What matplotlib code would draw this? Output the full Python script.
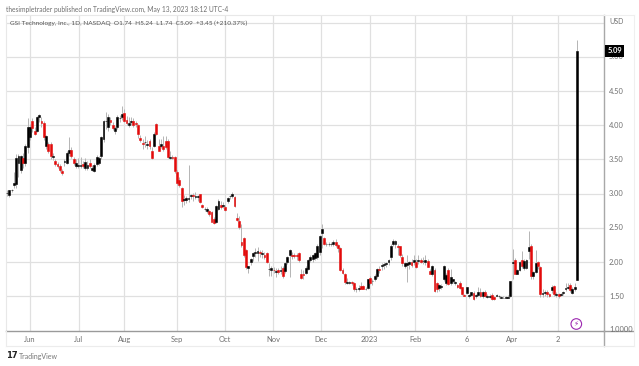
import matplotlib
matplotlib.use("Agg")
import matplotlib.pyplot as plt
import numpy as np

# daily bars as (open, high, low, close)
bars_may_jun = [
(3.01,3.05,2.97,3.01),(2.98,3.06,2.95,3.05),(3.05,3.07,3.02,3.05),(3.13,3.32,3.08,3.16),(3.14,3.58,3.09,3.52),
(3.45,3.58,3.25,3.55),(3.35,3.57,3.30,3.55),(3.52,3.60,3.38,3.45),(3.45,3.72,3.40,3.70),(3.68,4.10,3.60,3.97),
(3.83,4.02,3.78,3.98),(4.07,4.11,3.90,3.96),(3.92,3.97,3.86,3.88),(3.92,4.14,3.90,4.12),(4.12,4.16,4.05,4.15),
(4.07,4.12,3.98,4.03),(4.03,4.06,3.78,3.83),(3.70,3.86,3.65,3.85),(3.72,3.76,3.60,3.63),(3.72,3.75,3.50,3.55),
(3.53,3.60,3.49,3.55),(3.48,3.50,3.40,3.44),(3.44,3.47,3.37,3.40),(3.40,3.43,3.32,3.35),(3.33,3.36,3.28,3.30),
(3.46,3.50,3.41,3.48),(3.45,3.62,3.43,3.60),(3.60,3.83,3.55,3.64),(3.64,3.68,3.52,3.55),(3.50,3.54,3.42,3.45),
(3.40,3.50,3.37,3.45),(3.41,3.52,3.38,3.42),
]
bars_jul_aug = [
(3.41,3.53,3.38,3.42),(3.43,3.48,3.38,3.40),(3.37,3.52,3.34,3.46),(3.37,3.48,3.35,3.42),(3.45,3.50,3.38,3.41),
(3.35,3.42,3.33,3.38),(3.33,3.45,3.31,3.42),(3.44,3.56,3.40,3.53),(3.45,3.55,3.42,3.52),(3.55,3.85,3.50,3.83),
(3.80,4.08,3.75,4.06),(4.06,4.20,3.95,4.07),(3.97,4.16,3.92,4.12),(4.08,4.12,4.00,4.05),(4.00,4.05,3.93,3.96),
(3.92,3.99,3.88,3.96),(3.97,4.15,3.95,4.12),(4.10,4.15,4.05,4.11),(4.12,4.28,4.08,4.16),(4.18,4.24,4.05,4.07),
(4.08,4.14,4.00,4.03),(4.00,4.12,3.97,4.03),(4.05,4.12,4.00,4.06),(4.06,4.11,3.97,4.00),(4.03,4.07,3.98,4.02),
(4.00,4.02,3.82,3.88),(3.82,3.86,3.76,3.78),(3.74,3.80,3.66,3.73),(3.75,3.84,3.68,3.76),(3.71,3.78,3.65,3.72),
(3.77,3.80,3.66,3.70),(3.63,3.68,3.50,3.52),(3.70,3.90,3.68,3.88),(4.02,4.04,3.86,3.88),(3.70,3.80,3.62,3.63),
(3.70,3.80,3.67,3.72),(3.70,3.84,3.63,3.65),(3.77,3.84,3.66,3.68),(3.77,3.80,3.52,3.54),(3.52,3.62,3.50,3.53),
(3.53,3.56,3.50,3.52),(3.53,3.55,3.30,3.33),
]
bars_sep_oct = [
(3.32,3.34,3.13,3.15),(3.20,3.24,3.10,3.12),(3.08,3.10,2.80,2.90),(2.91,2.98,2.84,2.92),(2.91,2.96,2.86,2.93),
(2.92,3.42,2.88,2.93),(2.97,3.00,2.92,2.98),(2.98,3.01,2.90,2.96),(2.95,3.02,2.92,2.96),(2.95,2.98,2.90,2.96),
(2.99,3.00,2.87,2.88),(2.83,2.85,2.79,2.80),(2.77,2.81,2.74,2.78),(2.75,2.80,2.72,2.78),(2.74,2.76,2.68,2.70),
(2.73,2.75,2.58,2.58),(2.63,2.66,2.56,2.57),(2.58,2.84,2.57,2.82),(2.78,2.92,2.76,2.89),(2.83,2.90,2.78,2.80),
(2.82,2.88,2.79,2.83),(2.80,2.84,2.75,2.76),(2.90,2.95,2.86,2.93),(2.96,2.98,2.92,2.97),(2.96,3.02,2.94,3.00),
(2.95,2.97,2.80,2.82),(2.65,2.72,2.60,2.62),(2.60,2.67,2.48,2.51),(2.30,2.56,2.22,2.25),(2.35,2.37,2.08,2.10),
(2.17,2.19,1.90,1.93),(1.92,1.95,1.84,1.94),(2.00,2.06,1.96,2.05),(2.09,2.15,2.02,2.13),(2.14,2.20,2.08,2.15),
(2.14,2.22,2.02,2.16),(2.15,2.18,2.08,2.14),(2.12,2.18,2.06,2.13),
]
bars_nov_dec = [
(2.11,2.15,2.04,2.07),(2.13,2.15,1.98,2.00),(1.90,1.98,1.79,1.90),(1.89,1.95,1.80,1.91),(1.89,1.93,1.84,1.88),
(1.85,1.92,1.78,1.87),(1.88,1.91,1.82,1.85),(1.87,1.94,1.83,1.88),(1.91,1.94,1.77,1.80),(1.87,2.00,1.84,1.99),
(2.00,2.09,1.97,2.08),(2.10,2.19,1.78,2.18),(2.11,2.15,2.05,2.09),(2.11,2.13,2.06,2.09),(2.11,2.14,2.03,2.09),
(2.13,2.15,2.00,2.03),(1.83,1.90,1.76,1.77),(1.82,1.88,1.76,1.81),(1.84,1.95,1.82,1.92),(1.90,2.05,1.88,2.03),
(2.03,2.10,2.00,2.08),(2.04,2.12,2.00,2.10),(2.06,2.15,2.03,2.13),(2.08,2.26,2.05,2.24),(2.15,2.40,2.10,2.38),
(2.42,2.55,2.20,2.48),(2.35,2.37,2.25,2.26),(2.26,2.30,2.24,2.27),(2.26,2.30,2.24,2.26),(2.26,2.29,2.23,2.27),
(2.26,2.33,2.24,2.29),(2.30,2.34,2.22,2.25),(2.25,2.27,2.15,2.20),(2.20,2.22,1.87,1.88),(1.89,1.91,1.82,1.84),
(1.83,1.84,1.68,1.71),(1.70,1.77,1.68,1.71),(1.70,1.73,1.68,1.71),(1.71,1.72,1.66,1.70),(1.70,1.71,1.58,1.60),
(1.60,1.63,1.57,1.61),
]
bars_jan_feb = [
(1.60,1.67,1.58,1.62),(1.65,1.71,1.60,1.61),(1.65,1.67,1.60,1.61),(1.60,1.63,1.59,1.61),(1.62,1.76,1.60,1.75),
(1.77,1.79,1.68,1.70),(1.72,1.75,1.66,1.73),(1.75,1.82,1.72,1.80),(1.80,1.92,1.77,1.90),(1.90,1.95,1.84,1.88),
(1.94,1.98,1.88,1.96),(1.96,2.00,1.90,1.97),(1.97,2.00,1.93,1.98),(2.00,2.04,1.96,2.03),(2.07,2.26,2.03,2.24),
(2.26,2.34,2.23,2.31),(2.26,2.33,2.21,2.31),(2.24,2.26,2.10,2.22),(2.23,2.24,2.08,2.10),(2.08,2.12,1.95,1.98),
(1.95,2.00,1.92,1.98),(1.96,2.10,1.71,1.99),(1.97,2.02,1.90,2.00),(2.00,2.05,1.93,1.96),(2.00,2.11,1.96,2.03),
(2.00,2.04,1.92,1.93),(2.02,2.10,1.97,2.03),(2.03,2.06,1.98,2.00),(2.01,2.08,1.97,2.02),(2.00,2.10,1.96,2.03),
(2.02,2.05,1.93,1.93),(1.87,1.90,1.82,1.83),(1.83,1.96,1.80,1.94),(1.89,1.91,1.56,1.58),(1.69,1.71,1.56,1.60),
(1.62,1.68,1.58,1.66),(1.64,1.68,1.60,1.65),(1.76,1.96,1.72,1.95),(1.69,1.84,1.66,1.81),
]
bars_mar_apr = [
(1.89,1.91,1.66,1.68),(1.70,1.90,1.66,1.78),(1.73,1.76,1.69,1.75),(1.70,1.73,1.67,1.71),(1.66,1.68,1.62,1.64),
(1.70,1.72,1.60,1.62),(1.63,1.64,1.52,1.53),(1.52,1.54,1.50,1.50),(1.55,1.64,1.53,1.63),(1.50,1.53,1.48,1.52),
(1.52,1.57,1.50,1.56),(1.55,1.58,1.44,1.46),(1.51,1.54,1.48,1.52),(1.52,1.63,1.50,1.57),(1.57,1.62,1.49,1.50),
(1.50,1.58,1.48,1.56),(1.57,1.59,1.49,1.50),(1.49,1.53,1.48,1.51),(1.49,1.53,1.47,1.50),(1.52,1.55,1.45,1.46),
(1.49,1.51,1.45,1.46),(1.51,1.54,1.50,1.52),(1.50,1.52,1.48,1.50),(1.48,1.50,1.47,1.49),(1.48,1.50,1.47,1.48),
(1.48,1.50,1.47,1.49),(1.48,1.52,1.47,1.49),(1.50,1.73,1.49,1.73),(1.98,2.19,1.75,2.00),(2.03,2.06,1.82,1.83),
(1.83,1.90,1.83,1.89),(1.89,2.02,1.87,2.00),(2.03,2.16,1.92,1.94),(1.91,2.05,1.89,2.02),(1.92,2.05,1.90,2.03),
(2.16,2.46,2.05,2.22),(2.24,2.27,1.76,1.80),(1.80,1.87,1.76,1.85),(1.85,2.18,1.84,1.98),(2.00,2.02,1.90,1.94),
(1.93,1.95,1.49,1.54),(1.54,1.60,1.49,1.55),(1.55,1.59,1.50,1.56),(1.57,1.59,1.49,1.53),(1.53,1.55,1.49,1.50),
]
bars_may = [
(1.59,1.66,1.55,1.64),(1.65,1.66,1.50,1.53),(1.52,1.56,1.49,1.54),(1.53,1.55,1.48,1.50),(1.52,1.55,1.50,1.54),
(1.55,1.58,1.52,1.57),(1.61,1.69,1.58,1.62),(1.62,1.69,1.60,1.63),(1.67,1.70,1.57,1.59),(1.55,1.63,1.54,1.60),
(1.60,1.70,1.58,1.64),(1.74,5.24,1.74,5.09),
]

tick_positions = [10.0, 31.2, 51.0, 73.8, 94.9, 115.9, 136.8, 157.8, 177.7, 199.9, 219.6, 239.6]
tick_labels = ["Jun", "Jul", "Aug", "Sep", "Oct", "Nov", "Dec", "2023", "Feb", "6", "Apr", "2"]
price_ticks = [1.5, 2.0, 2.5, 3.0, 3.5, 4.0, 4.5, 5.0, 5.5]
price_labels = ["1.50", "2.00", "2.50", "3.00", "3.50", "4.00", "4.50", "5.00"]
last_price = 5.09

ohlc = np.array(bars_may_jun + bars_jul_aug + bars_sep_oct + bars_nov_dec + bars_jan_feb + bars_mar_apr + bars_may)
opens, highs, lows, closes = ohlc.T
idx = np.arange(len(ohlc))

W, H = 639, 366
FONT = ["Lato", "DejaVu Sans"]
TXT = "#6f6f6f"
fig = plt.figure(figsize=(W / 100, H / 100), dpi=100, facecolor="white")
ax = fig.add_axes([6 / W, (H - 331) / H, 598 / W, 316 / H])
step = 570 / (len(ohlc) - 1)
ax.set_xlim((6 - 7) / step, (604 - 7) / step)
ax.set_ylim(1 - 0.5 / 68.4, 1 + 315.5 / 68.4)

ax.set_yticks(price_ticks)
ax.set_xticks(tick_positions)
ax.grid(True, color="#e0e0e0", lw=0.9, zorder=0)
ax.set_axisbelow(True)
ax.tick_params(length=0, labelleft=False, labelbottom=False)

for s in ("top", "left"):
    ax.spines[s].set_color("#e8e8e8")
    ax.spines[s].set_linewidth(0.8)
ax.spines["right"].set_color("#a8a8a8")
ax.spines["right"].set_linewidth(1.0)
ax.spines["bottom"].set_color("#9a9a9a")
ax.spines["bottom"].set_linewidth(1.0)

ax.vlines(idx, lows, highs, color="#b4b4b4", lw=0.7, zorder=2)
up = closes >= opens
cols = np.where(up, "#000000", "#e30b0b")
ax.bar(idx, closes - opens, bottom=opens, width=0.8, color=cols, edgecolor=cols, lw=0.4, zorder=3)

# tick labels
for x, t in zip(tick_positions, tick_labels):
    ax.annotate(t, (x, 0), xycoords=("data", "axes fraction"), xytext=(0, -8.5), textcoords="offset pixels",
                ha="center", va="center", fontsize=5.4, color=TXT, family=FONT, annotation_clip=False)
for p, t in zip(price_ticks, price_labels):
    ax.annotate(t, (1, p), xycoords=("axes fraction", "data"), xytext=(5, 0), textcoords="offset pixels",
                ha="left", va="center", fontsize=5.4, color=TXT, family=FONT, annotation_clip=False)

def ft(px, py, s, **kw):
    kw.setdefault("fontsize", 5.4)
    kw.setdefault("color", TXT)
    kw.setdefault("family", FONT)
    kw.setdefault("va", "center")
    return fig.text(px / W, 1 - py / H, s, **kw)

# bottom axis strip and outer frame
fig.add_artist(plt.Line2D([604 / W, 633 / W], [1 - 331 / H] * 2, color="#9a9a9a", lw=1.0))
fig.add_artist(plt.Line2D([604 / W, 604 / W], [1 - 346 / H, 1 - 331 / H], color="#a8a8a8", lw=1.0))
fig.add_artist(plt.Line2D([6 / W, 634 / W], [1 - 346 / H] * 2, color="#ececec", lw=0.8))
fig.add_artist(plt.Line2D([6 / W, 6 / W], [1 - 346 / H, 1 - 331 / H], color="#ececec", lw=0.8))
fig.add_artist(plt.Line2D([634 / W, 634 / W], [1 - 346 / H, 1 - 15 / H], color="#efefef", lw=0.8))
fig.add_artist(plt.Line2D([604 / W, 634 / W], [1 - 15 / H] * 2, color="#efefef", lw=0.8))

ft(6, 9, "thesimpletrader published on TradingView.com, May 13, 2023 18:12 UTC-4", fontsize=4.75)
ft(10, 23.5, "GSI Technology, Inc., 1D, NASDAQ  O1.74  H5.24  L1.74  C5.09  +3.45 (+210.37%)", fontsize=4.65, color="#555555")
ft(609, 21, "USD", fontsize=5.0)
ft(609, 330, "1.0000", fontsize=5.4)

# last price tag
ax.annotate(f"{last_price:.2f}", (1, last_price), xycoords=("axes fraction", "data"), xytext=(10.5, 0),
            textcoords="offset pixels", ha="center", va="center", fontsize=5.4, fontweight="bold", color="white",
            family=FONT, annotation_clip=False, zorder=10,
            bbox=dict(boxstyle="square,pad=0.35", fc="black", ec="black", lw=0))

# TradingView logo, real text
ft(6, 356, "17", fontsize=6, fontweight="black", color="#222222", family=["DejaVu Sans"])
ft(19, 356.5, "TradingView", fontsize=5.0, color="#777777")

# lightning badge
badge = plt.Circle((576.3, H - 324), 5.3, fc="white", ec="#9c27b0", lw=0.8)
badge.set_transform(matplotlib.transforms.IdentityTransform())
fig.add_artist(badge)
ft(576.3, 324, "\u26a1", fontsize=5.2, color="#9c27b0", ha="center", family=["DejaVu Sans"])

fig.savefig("out.png", dpi=100)
